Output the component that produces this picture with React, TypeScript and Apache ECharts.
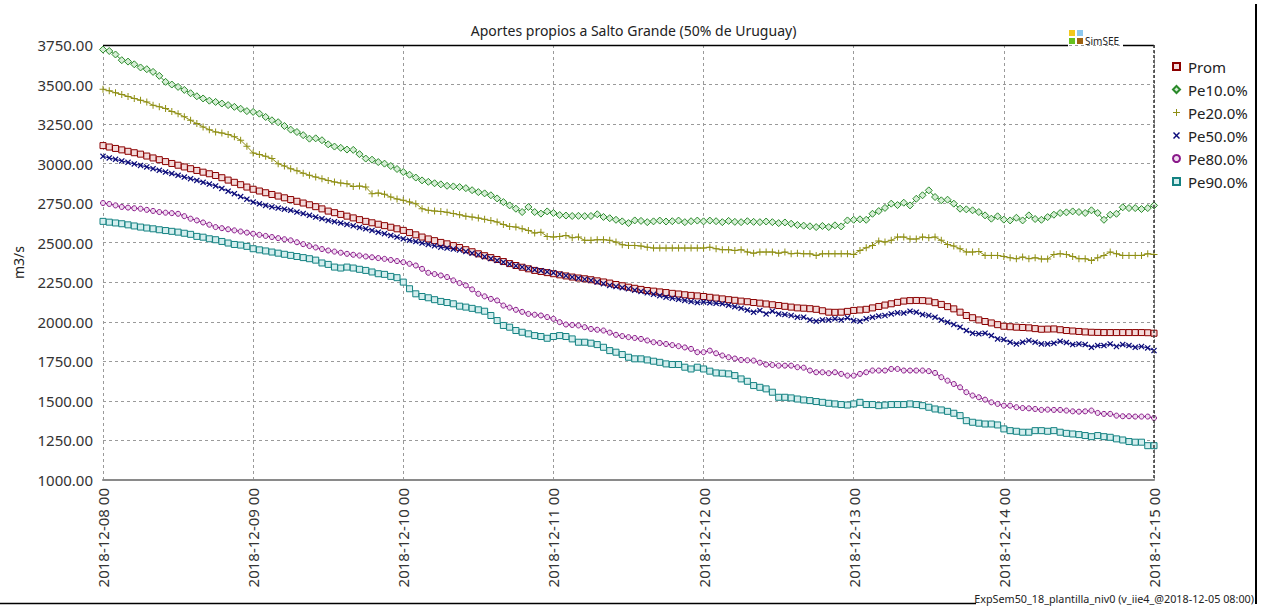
import React, { useEffect, useRef } from "react";
import * as echarts from "echarts";

const dayLabels = [
  "2018-12-08 00", "2018-12-09 00", "2018-12-10 00", "2018-12-11 00",
  "2018-12-12 00", "2018-12-13 00", "2018-12-14 00", "2018-12-15 00",
];

const seriesNames = ["Prom", "Pe10.0%", "Pe20.0%", "Pe50.0%", "Pe80.0%", "Pe90.0%"];

const prom = [
  3114, 3105, 3096, 3087, 3078, 3069, 3060, 3048, 3036, 3025, 3013, 3001, 2990, 2979, 2968, 2957, 2946, 2936, 2925, 2911, 2896, 2882, 2867, 2852,
  2838, 2827, 2816, 2805, 2795, 2784, 2773, 2762, 2751, 2740, 2728, 2714, 2700, 2690, 2679, 2668, 2657, 2646, 2635, 2626, 2617, 2608, 2598, 2588,
  2578, 2564, 2550, 2536, 2524, 2513, 2502, 2493, 2482, 2470, 2456, 2443, 2430, 2418, 2406, 2394, 2381, 2368, 2356, 2345, 2335, 2325, 2318, 2311,
  2304, 2297, 2290, 2283, 2277, 2272, 2266, 2259, 2252, 2245, 2236, 2228, 2219, 2212, 2205, 2198, 2194, 2189, 2185, 2180, 2176, 2171, 2167, 2164,
  2160, 2155, 2150, 2145, 2140, 2136, 2131, 2127, 2122, 2118, 2113, 2108, 2103, 2098, 2093, 2088, 2086, 2083, 2079, 2070, 2061, 2060, 2061, 2066,
  2072, 2075, 2079, 2088, 2097, 2106, 2114, 2123, 2131, 2134, 2135, 2134, 2131, 2121, 2110, 2096, 2082, 2061, 2040, 2026, 2012, 2002, 1993, 1982,
  1972, 1969, 1966, 1964, 1962, 1957, 1953, 1954, 1955, 1950, 1945, 1942, 1939, 1936, 1934, 1933, 1932, 1932, 1932, 1932, 1932, 1932, 1932, 1931,
  1928,
];

const pe10 = [
  3721, 3712, 3690, 3654, 3645, 3628, 3608, 3597, 3580, 3555, 3517, 3500, 3485, 3466, 3445, 3426, 3412, 3398, 3390, 3380, 3370, 3359, 3347, 3332,
  3327, 3316, 3295, 3274, 3262, 3238, 3215, 3200, 3180, 3158, 3160, 3148, 3122, 3108, 3100, 3089, 3087, 3060, 3032, 3025, 3010, 3000, 2985, 2966,
  2947, 2930, 2912, 2894, 2885, 2876, 2869, 2860, 2856, 2852, 2845, 2832, 2820, 2812, 2800, 2780, 2757, 2736, 2715, 2694, 2726, 2694, 2684, 2698,
  2688, 2675, 2672, 2669, 2670, 2668, 2669, 2680, 2663, 2655, 2645, 2635, 2624, 2641, 2638, 2630, 2635, 2640, 2634, 2636, 2640, 2630, 2636, 2640,
  2635, 2640, 2636, 2630, 2638, 2632, 2630, 2636, 2632, 2630, 2634, 2630, 2624, 2628, 2620, 2612, 2608, 2604, 2599, 2606, 2599, 2610, 2603, 2641,
  2645, 2648, 2645, 2683, 2700, 2720, 2747, 2738, 2753, 2736, 2778, 2800, 2831, 2789, 2768, 2772, 2747, 2715, 2711, 2705, 2694, 2673, 2652, 2667,
  2646, 2641, 2658, 2641, 2673, 2650, 2645, 2662, 2677, 2688, 2692, 2698, 2694, 2688, 2705, 2688, 2645, 2677, 2683, 2724, 2719, 2719, 2713, 2719,
  2736,
];

const pe20 = [
  3470, 3460, 3448, 3437, 3425, 3412, 3401, 3390, 3369, 3360, 3348, 3330, 3316, 3296, 3274, 3253, 3232, 3215, 3200, 3194, 3184, 3170, 3148, 3110,
  3067, 3058, 3046, 3032, 3000, 2985, 2968, 2955, 2940, 2926, 2915, 2905, 2894, 2884, 2877, 2873, 2856, 2858, 2852, 2810, 2814, 2806, 2789, 2776,
  2768, 2758, 2747, 2715, 2705, 2700, 2698, 2692, 2684, 2677, 2668, 2662, 2656, 2648, 2640, 2631, 2615, 2603, 2599, 2588, 2578, 2561, 2567, 2540,
  2536, 2540, 2546, 2532, 2536, 2515, 2515, 2519, 2519, 2515, 2504, 2487, 2483, 2483, 2479, 2472, 2466, 2466, 2466, 2466, 2466, 2466, 2466, 2466,
  2466, 2472, 2462, 2456, 2456, 2451, 2456, 2441, 2434, 2441, 2441, 2441, 2434, 2441, 2430, 2434, 2430, 2430, 2420, 2430, 2430, 2430, 2430, 2430,
  2426, 2451, 2468, 2483, 2511, 2504, 2515, 2536, 2536, 2523, 2523, 2536, 2532, 2536, 2515, 2489, 2479, 2462, 2441, 2441, 2445, 2420, 2420, 2420,
  2413, 2405, 2399, 2409, 2399, 2405, 2397, 2397, 2426, 2430, 2426, 2413, 2399, 2399, 2388, 2405, 2420, 2441, 2430, 2420, 2420, 2420, 2420, 2430,
  2426,
];

const pe50 = [
  3046, 3036, 3027, 3017, 3008, 2998, 2989, 2979, 2968, 2958, 2947, 2937, 2926, 2915, 2905, 2894, 2882, 2871, 2859, 2843, 2826, 2810, 2792, 2775,
  2757, 2746, 2736, 2726, 2719, 2712, 2705, 2694, 2684, 2673, 2662, 2652, 2641, 2633, 2624, 2616, 2607, 2597, 2588, 2578, 2567, 2557, 2546, 2536,
  2525, 2516, 2507, 2498, 2489, 2481, 2472, 2466, 2460, 2454, 2444, 2434, 2424, 2412, 2400, 2388, 2377, 2365, 2354, 2346, 2337, 2329, 2323, 2316,
  2310, 2301, 2292, 2283, 2276, 2269, 2262, 2251, 2241, 2230, 2223, 2216, 2209, 2200, 2192, 2183, 2174, 2165, 2156, 2149, 2142, 2135, 2128, 2122,
  2126, 2120, 2117, 2114, 2105, 2096, 2086, 2074, 2061, 2072, 2050, 2067, 2050, 2046, 2040, 2029, 2029, 2012, 2004, 2012, 2012, 2019, 2012, 2025,
  2008, 2004, 2019, 2029, 2036, 2040, 2050, 2057, 2055, 2067, 2061, 2046, 2040, 2029, 2012, 1998, 1983, 1966, 1945, 1928, 1924, 1928, 1913, 1892,
  1888, 1871, 1860, 1871, 1882, 1871, 1860, 1860, 1865, 1877, 1869, 1856, 1860, 1856, 1839, 1850, 1850, 1860, 1844, 1856, 1850, 1839, 1844, 1835,
  1818,
];

const pe80 = [
  2751, 2745, 2736, 2726, 2722, 2718, 2715, 2708, 2701, 2694, 2690, 2687, 2683, 2668, 2652, 2641, 2628, 2614, 2599, 2592, 2585, 2578, 2571, 2564,
  2557, 2550, 2543, 2536, 2529, 2522, 2515, 2503, 2491, 2479, 2470, 2460, 2451, 2444, 2437, 2430, 2424, 2419, 2413, 2408, 2403, 2398, 2391, 2384,
  2377, 2367, 2356, 2335, 2310, 2302, 2293, 2283, 2262, 2245, 2230, 2205, 2177, 2161, 2145, 2135, 2103, 2090, 2076, 2063, 2050, 2045, 2040, 2030,
  2019, 1998, 1983, 1980, 1977, 1966, 1955, 1950, 1945, 1932, 1918, 1910, 1903, 1898, 1892, 1882, 1871, 1866, 1860, 1853, 1846, 1838, 1829, 1808,
  1808, 1818, 1801, 1787, 1776, 1768, 1759, 1757, 1755, 1742, 1730, 1727, 1723, 1723, 1723, 1713, 1710, 1692, 1681, 1681, 1675, 1681, 1671, 1660,
  1660, 1671, 1681, 1692, 1692, 1692, 1702, 1702, 1692, 1692, 1692, 1692, 1688, 1677, 1650, 1628, 1607, 1586, 1555, 1534, 1523, 1508, 1491, 1481,
  1470, 1470, 1460, 1455, 1453, 1449, 1443, 1445, 1443, 1443, 1439, 1434, 1432, 1434, 1439, 1424, 1418, 1418, 1407, 1403, 1403, 1401, 1401, 1401,
  1392,
];

const pe90 = [
  2635, 2630, 2625, 2620, 2613, 2606, 2599, 2593, 2588, 2582, 2577, 2572, 2567, 2560, 2553, 2540, 2535, 2525, 2519, 2508, 2498, 2489, 2485, 2477,
  2462, 2455, 2448, 2441, 2434, 2427, 2420, 2413, 2406, 2399, 2390, 2372, 2363, 2346, 2340, 2346, 2340, 2332, 2325, 2315, 2304, 2300, 2287, 2279,
  2251, 2209, 2177, 2160, 2152, 2140, 2129, 2122, 2114, 2099, 2093, 2085, 2076, 2067, 2040, 2008, 1977, 1966, 1945, 1934, 1924, 1913, 1907, 1896,
  1907, 1913, 1907, 1892, 1871, 1871, 1865, 1856, 1839, 1818, 1808, 1793, 1776, 1766, 1766, 1759, 1751, 1744, 1734, 1730, 1730, 1713, 1702, 1713,
  1702, 1688, 1677, 1675, 1671, 1660, 1639, 1624, 1597, 1586, 1576, 1555, 1523, 1523, 1519, 1512, 1506, 1502, 1496, 1491, 1485, 1481, 1477, 1474,
  1481, 1491, 1477, 1477, 1470, 1474, 1477, 1477, 1477, 1481, 1477, 1470, 1460, 1449, 1443, 1434, 1422, 1407, 1375, 1365, 1359, 1354, 1354, 1348,
  1323, 1312, 1308, 1302, 1302, 1312, 1312, 1308, 1312, 1302, 1295, 1291, 1287, 1281, 1274, 1281, 1274, 1270, 1260, 1253, 1243, 1239, 1239, 1217,
  1217,
];

const PLUS = "path://M3,0H4V3H7V4H4V7H3V4H0V3H3Z";
const CROSS = "path://M0,1L1,0L3.5,2.5L6,0L7,1L4.5,3.5L7,6L6,7L3.5,4.5L1,7L0,6L2.5,3.5Z";

const FONT = "'Noto Sans', 'Open Sans', sans-serif";

function mk(name: string, vals: number[], symbol: string, size: number, line: string, fill: string, border: number) {
  return {
    name,
    type: "line",
    data: vals.map((v, i) => [i, v]),
    symbol,
    symbolSize: size,
    showSymbol: true,
    lineStyle: { color: line, width: 1 },
    itemStyle: { color: fill, borderColor: line, borderWidth: border },
    emphasis: { disabled: true },
  };
}

export default function App() {
  const ref = useRef<HTMLDivElement>(null);
  useEffect(() => {
    if (!ref.current) return;
    const chart = echarts.init(ref.current, undefined, { renderer: "svg" });
    const left = 103, right = 1154, top = 45, bottom = 480;
    const series = [
      mk(seriesNames[0], prom, "rect", 6, "#8b0000", "#f3dada", 1),
      mk(seriesNames[1], pe10, "diamond", 7, "#2a8a2a", "#d6eed6", 1),
      mk(seriesNames[2], pe20, PLUS, 7, "#8f8f14", "#8f8f14", 0),
      mk(seriesNames[3], pe50, CROSS, 6, "#0a0a7a", "#0a0a7a", 0),
      mk(seriesNames[4], pe80, "circle", 5, "#8a1a8a", "#f0dcf0", 1),
      mk(seriesNames[5], pe90, "rect", 6, "#148282", "#d4eeee", 1),
    ];
    const icons = ["rect", "diamond", PLUS, CROSS, "circle", "rect"];
    chart.setOption({
      animation: false,
      backgroundColor: "#ffffff",
      title: {
        text: "Aportes propios a Salto Grande (50% de Uruguay)",
        left: (left + right) / 2,
        textAlign: "center",
        top: 18,
        textStyle: { fontFamily: FONT, fontSize: 14, fontWeight: "normal", color: "#222" },
      },
      legend: {
        orient: "vertical",
        left: 1167,
        top: 53,
        itemWidth: 7,
        itemHeight: 7,
        itemGap: 6,
        data: seriesNames.map((n, i) => ({ name: n, icon: icons[i] })),
        textStyle: { fontFamily: FONT, fontSize: 15, color: "#222", lineHeight: 17, padding: [0, 0, 0, 3] },
        selectedMode: false,
      },
      grid: { left, right: 1266 - right, top, bottom: 606 - bottom, containLabel: false },
      xAxis: {
        type: "value",
        min: 0,
        max: 168,
        interval: 24,
        axisLine: { show: true, lineStyle: { color: "#8a8a8a", width: 2 } },
        axisTick: { show: false },
        axisLabel: {
          rotate: 90,
          margin: 8,
          fontFamily: FONT,
          fontSize: 15,
          color: "#333",
          formatter: (v: number) => dayLabels[Math.round(v / 24)] ?? "",
        },
        splitLine: { show: true, lineStyle: { color: "#9a9a9a", type: [3, 3], width: 1 } },
      },
      yAxis: {
        type: "value",
        min: 1000,
        max: 3750,
        interval: 250,
        name: "m3/s",
        nameLocation: "middle",
        nameRotate: 90,
        nameGap: 78,
        nameTextStyle: { fontFamily: FONT, fontSize: 14, color: "#222" },
        axisLine: { show: false },
        axisTick: { show: false },
        axisLabel: {
          margin: 10,
          fontFamily: FONT,
          fontSize: 15,
          color: "#333",
          formatter: (v: number) => v.toFixed(2),
        },
        splitLine: { show: true, lineStyle: { color: "#9a9a9a", type: [3, 3], width: 1 } },
      },
      graphic: [
        { type: "line", z: 100, shape: { x1: left, y1: top + 0.5, x2: 1068, y2: top + 0.5 }, style: { stroke: "#000", lineWidth: 1.5 } },
        { type: "line", z: 100, shape: { x1: 1123, y1: top + 0.5, x2: right, y2: top + 0.5 }, style: { stroke: "#000", lineWidth: 1.5 } },
        { type: "line", z: 100, shape: { x1: right, y1: top, x2: right, y2: bottom }, style: { stroke: "#333", lineWidth: 1.5, lineDash: [3, 2] } },
        { type: "rect", z: 100, shape: { x: 1069, y: 30, width: 6, height: 6 }, style: { fill: "#f2c81e" } },
        { type: "rect", z: 100, shape: { x: 1077, y: 30, width: 6, height: 6 }, style: { fill: "#8cc8f0" } },
        { type: "rect", z: 100, shape: { x: 1069, y: 38, width: 6, height: 6 }, style: { fill: "#66c01e" } },
        { type: "rect", z: 100, shape: { x: 1077, y: 38, width: 6, height: 6 }, style: { fill: "#a0620e" } },
        {
          type: "text", z: 100, x: 1085, y: 46,
          style: { text: "SimSEE", fontFamily: FONT, fontSize: 10, fill: "#222", textVerticalAlign: "bottom" },
        },
        { type: "line", z: 100, shape: { x1: 1256, y1: 4, x2: 1256, y2: 604 }, style: { stroke: "#000", lineWidth: 2 } },
        { type: "line", z: 100, shape: { x1: 0, y1: 603.5, x2: 976, y2: 603.5 }, style: { stroke: "#000", lineWidth: 1.5 } },
        {
          type: "text", z: 100, x: 1254, y: 598,
          style: {
            text: "ExpSem50_18_plantilla_niv0 (v_iie4_@2018-12-05 08:00)",
            fontFamily: FONT, fontSize: 10.8, fill: "#222", textAlign: "right", textVerticalAlign: "middle",
          },
        },
      ],
      series,
    });
    return () => chart.dispose();
  }, []);
  return (
    <div
      ref={ref}
      style={{ position: "fixed", left: 0, top: 0, width: 1266, height: 606, background: "#fff" }}
    />
  );
}
